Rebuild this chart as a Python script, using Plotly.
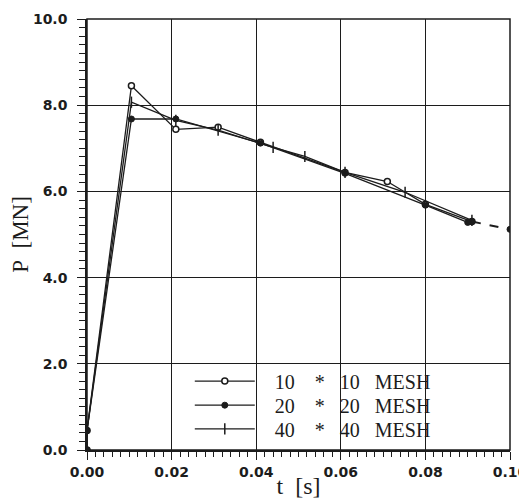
import plotly.graph_objects as go

# ---- data ----
t10 = [0.0, 0.0, 0.0105, 0.021, 0.031, 0.041, 0.061, 0.071, 0.080, 0.091, 0.100]
p10 = [0.0, 0.45, 8.45, 7.44, 7.49, 7.14, 6.44, 6.23, 5.70, 5.30, 5.12]

t20 = [0.0, 0.0, 0.0105, 0.021, 0.041, 0.061, 0.080, 0.090]
p20 = [0.0, 0.45, 7.68, 7.68, 7.12, 6.42, 5.68, 5.28]

t40 = [0.0, 0.0, 0.0105, 0.021, 0.031, 0.044, 0.0515, 0.061, 0.0752, 0.091]
p40 = [0.0, 0.45, 8.07, 7.65, 7.42, 7.02, 6.81, 6.44, 5.98, 5.33]

S = "\u00a0"
names = [S * 3 + "10" + S * 4 + "*" + S * 3 + "10" + S * 3 + "MESH",
         S * 3 + "20" + S * 4 + "*" + S * 3 + "20" + S * 3 + "MESH",
         S * 3 + "40" + S * 4 + "*" + S * 3 + "40" + S * 3 + "MESH"]

x_ticks = [0.00, 0.02, 0.04, 0.06, 0.08, 0.10]
y_ticks = [0.0, 2.0, 4.0, 6.0, 8.0, 10.0]

INK = "#1c1c1c"
LW = 1.3

fig = go.Figure()
fig.add_trace(go.Scatter(
    x=t10[:-1], y=p10[:-1], mode="lines+markers", name=names[0], legend="legend",
    line=dict(color=INK, width=LW),
    marker=dict(symbol="circle", size=6, color="white", line=dict(color=INK, width=1.5)),
))
fig.add_trace(go.Scatter(
    x=t10[-2:], y=p10[-2:], mode="lines+markers", showlegend=False,
    line=dict(color=INK, width=2, dash="dash"),
    marker=dict(symbol="circle", size=6, color=INK, line=dict(color=INK, width=1)),
))
fig.add_trace(go.Scatter(
    x=t20, y=p20, mode="lines+markers", name=names[1], legend="legend2",
    line=dict(color=INK, width=LW),
    marker=dict(symbol="circle", size=6, color=INK, line=dict(color=INK, width=1)),
))
fig.add_trace(go.Scatter(
    x=t40, y=p40, mode="lines+markers", name=names[2], legend="legend3",
    line=dict(color=INK, width=LW),
    marker=dict(symbol="line-ns-open", size=8, color=INK, line=dict(color=INK, width=1.5)),
))

fig.update_xaxes(
    range=[x_ticks[0], x_ticks[-1]], dtick=x_ticks[1] - x_ticks[0],
    tickformat=".2f", ticks="outside", ticklen=8, tickcolor=INK, tickwidth=1.3,
    showline=True, linecolor=INK, linewidth=1.5,
    showgrid=True, gridcolor=INK, gridwidth=1, zeroline=False,
    tickfont=dict(family="DejaVu Sans", size=14, color=INK, weight="bold"),
    ticklabeloverflow="allow",
    minor=dict(dtick=(x_ticks[1] - x_ticks[0]) / 10, ticks="outside", ticklen=5,
               tickcolor=INK, tickwidth=1.2),
    title=dict(text="t" + S * 2 + "[s]", font=dict(family="Liberation Serif", size=24, color=INK), standoff=0),
)
fig.update_yaxes(
    range=[y_ticks[0], y_ticks[-1]], dtick=y_ticks[1] - y_ticks[0],
    tickformat=".1f", ticks="outside", ticklen=8, tickcolor=INK, tickwidth=1.3,
    ticklabelstandoff=7,
    showline=True, linecolor=INK, linewidth=1.5,
    showgrid=True, gridcolor=INK, gridwidth=1, zeroline=False,
    tickfont=dict(family="DejaVu Sans", size=14, color=INK, weight="bold"),
    minor=dict(dtick=(y_ticks[1] - y_ticks[0]) / 10, ticks="outside", ticklen=6,
               tickcolor=INK, tickwidth=1.2),
    title=dict(text="P" + S * 2 + "[MN]", font=dict(family="Liberation Serif", size=23, color=INK), standoff=4),
)

# plot frame (top and right borders)
fig.add_shape(type="rect", xref="paper", yref="paper", x0=0, y0=0, x1=1, y1=1,
              line=dict(color=INK, width=1.5), layer="above")

leg = dict(xanchor="left", yanchor="middle", x=0.243,
           bgcolor="rgba(0,0,0,0)", borderwidth=0,
           font=dict(family="Liberation Serif", size=20, color=INK), itemwidth=60)

# the page has an 8px body margin, so the figure is 8px smaller and margins shifted
fig.update_layout(
    width=519, height=491,
    margin=dict(l=79, r=17, t=11, b=49, autoexpand=False),
    paper_bgcolor="white", plot_bgcolor="white",
    legend=dict(y=0.160, **leg),
    legend2=dict(y=0.104, **leg),
    legend3=dict(y=0.049, **leg),
)

fig.write_html("out.html")
